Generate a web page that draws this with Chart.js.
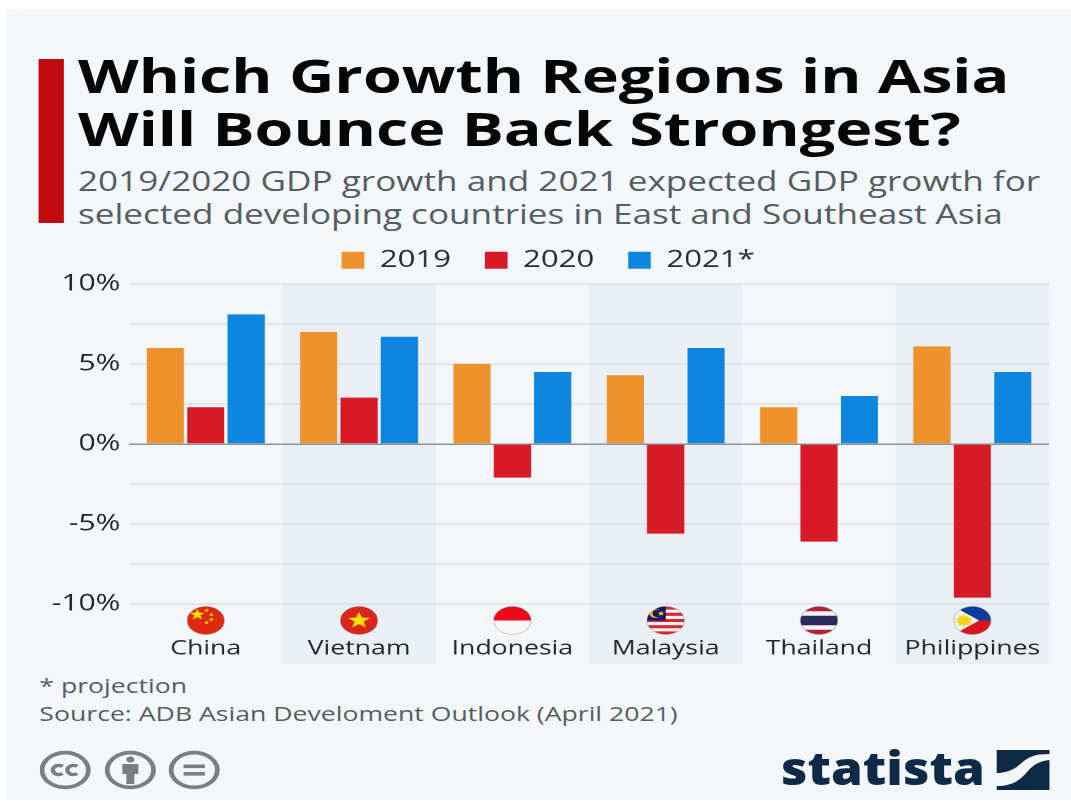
<!DOCTYPE html>
<html>
<head>
<meta charset="utf-8">
<title>Which Growth Regions in Asia Will Bounce Back Strongest?</title>
<script src="https://cdn.jsdelivr.net/npm/chart.js@4"></script>
<style>
    html, body { margin: 0; padding: 0; background: #fff; overflow: hidden; }
    #lienzo {
        position: absolute; left: 0; top: 0; width: 805px; height: 805px;
        transform-origin: 0 0; transform: scaleX(1.3304);
        font-family: "Open Sans", sans-serif;
    }
    #fondo { position: absolute; left: 5px; top: 10px; width: 800px; height: 790px; background: #f3f7fa; }
    #marca { position: absolute; left: 29px; top: 59px; width: 19px; height: 164px; background: #bf0b0e; }
    .texto { position: absolute; white-space: nowrap; }
    #titulo { left: 58.6px; top: 49px; font-size: 47.2px; line-height: 53px; font-weight: 700; color: #060606; }
    #subtitulo { left: 58.6px; top: 165px; font-size: 26.4px; line-height: 33px; color: #565d63; }
    #nota { left: 29.6px; top: 672px; font-size: 20px; line-height: 28px; color: #565d63; }
    #grafico { position: absolute; left: 0; top: 223px; }
    #cc { position: absolute; left: 30px; top: 750px; }
    #logoTexto {
        left: 587px; top: 737px; font-size: 46px; line-height: 60px; font-weight: 800; color: #0f2a47;
        transform-origin: 0 0; transform: scaleX(0.836);
    }
    #logoMarca { position: absolute; left: 749px; top: 750px; }
</style>
</head>
<body>
<div id="lienzo">
    <div id="fondo"></div>
    <div id="marca"></div>
    <div id="titulo" class="texto">Which Growth Regions in Asia<br>Will Bounce Back Strongest?</div>
    <div id="subtitulo" class="texto">2019/2020 GDP growth and 2021 expected GDP growth for<br>selected developing countries in East and Southeast Asia</div>
    <canvas id="grafico" width="805" height="441"></canvas>
    <div id="nota" class="texto">* projection<br>Source: ADB Asian Develoment Outlook (April 2021)</div>
    <svg id="cc" width="140" height="40" viewBox="0 0 140 40">
        <g fill="none" stroke="#7b7f80" stroke-width="3.6">
            <circle cx="19" cy="20" r="17.4"/>
            <circle cx="68" cy="20" r="17.4"/>
            <circle cx="116" cy="20" r="17.4"/>
        </g>
        <g fill="none" stroke="#7b7f80" stroke-width="3.4">
            <path d="M17 16.5a4.5 4.5 0 1 0 0 7"/>
            <path d="M28 16.5a4.5 4.5 0 1 0 0 7"/>
        </g>
        <g fill="#7b7f80">
            <circle cx="68" cy="9.5" r="3"/>
            <path d="M62 14h12v10h-3v10h-6V24h-3z"/>
            <rect x="108" y="14.5" width="16" height="3.6"/>
            <rect x="108" y="22" width="16" height="3.6"/>
        </g>
    </svg>
    <div id="logoTexto" class="texto">statista</div>
    <svg id="logoMarca" width="40" height="40" viewBox="0 0 40 40">
        <path fill="#0f2a47" d="M0 0H40V4C28 4 24 7 18 14C13 20 7 23 0 23Z"/>
        <path fill="#0f2a47" d="M40 10V40H0V36C12 36 18 30 23 22C28 14 33 11 40 10Z"/>
    </svg>
</div>

<script>
const paises = ['China', 'Vietnam', 'Indonesia', 'Malaysia', 'Thailand', 'Philippines'];
const anios = ['2019', '2020', '2021*'];
const valores2019 = [6.0, 7.0, 5.0, 4.3, 2.3, 6.1];
const valores2020 = [2.3, 2.9, -2.1, -5.6, -6.1, -9.6];
const valores2021 = [8.1, 6.7, 4.5, 6.0, 3.0, 4.5];
const coloresAnios = ['#f0922b', '#d81a27', '#0d86e0'];
const marcasEje = ['10%', '5%', '0%', '-5%', '-10%'];

const FUENTE = '"Open Sans", sans-serif';

function estrella(ctx, x, y, r, color, giro = 0) {
    ctx.fillStyle = color;
    ctx.beginPath();
    for (let i = 0; i < 10; i++) {
        const radio = i % 2 ? r * 0.42 : r;
        const ang = -Math.PI / 2 + giro + i * Math.PI / 5;
        ctx.lineTo(x + radio * Math.cos(ang), y + radio * Math.sin(ang));
    }
    ctx.closePath();
    ctx.fill();
}

// Cada bandera se dibuja dentro de un circulo de radio r centrado en (0,0)
const banderas = {
    China(ctx, r) {
        ctx.fillStyle = '#de2910';
        ctx.fillRect(-r, -r, 2 * r, 2 * r);
        estrella(ctx, -r * 0.45, -r * 0.42, r * 0.42, '#ffde00');
        [[0.05, -0.72], [0.3, -0.42], [0.3, -0.08], [0.05, 0.15]].forEach(p => {
            estrella(ctx, r * p[0], r * p[1], r * 0.15, '#ffde00');
        });
    },
    Vietnam(ctx, r) {
        ctx.fillStyle = '#da251d';
        ctx.fillRect(-r, -r, 2 * r, 2 * r);
        estrella(ctx, 0, 0, r * 0.62, '#ffe000');
    },
    Indonesia(ctx, r) {
        ctx.fillStyle = '#f7f7f7';
        ctx.fillRect(-r, -r, 2 * r, 2 * r);
        ctx.fillStyle = '#ec0a18';
        ctx.fillRect(-r, -r, 2 * r, r);
    },
    Malaysia(ctx, r) {
        for (let i = 0; i < 9; i++) {
            ctx.fillStyle = i % 2 ? '#f5f5f5' : '#d8262c';
            ctx.fillRect(-r, -r + i * 2 * r / 9, 2 * r, 2 * r / 9 + 0.5);
        }
        ctx.fillStyle = '#14146e';
        ctx.fillRect(-r, -r, r, r);
        ctx.fillStyle = '#ffcc00';
        ctx.beginPath();
        ctx.arc(-r * 0.55, -r * 0.5, r * 0.32, 0, Math.PI * 2);
        ctx.fill();
        ctx.fillStyle = '#14146e';
        ctx.beginPath();
        ctx.arc(-r * 0.45, -r * 0.5, r * 0.27, 0, Math.PI * 2);
        ctx.fill();
        estrella(ctx, -r * 0.25, -r * 0.5, r * 0.2, '#ffcc00');
    },
    Thailand(ctx, r) {
        ctx.fillStyle = '#b5203a';
        ctx.fillRect(-r, -r, 2 * r, 2 * r);
        ctx.fillStyle = '#f5f5f5';
        ctx.fillRect(-r, -r * 0.66, 2 * r, r * 1.32);
        ctx.fillStyle = '#2a2a5c';
        ctx.fillRect(-r, -r * 0.34, 2 * r, r * 0.68);
    },
    Philippines(ctx, r) {
        ctx.fillStyle = '#0d3b9c';
        ctx.fillRect(-r, -r, 2 * r, r);
        ctx.fillStyle = '#d8141e';
        ctx.fillRect(-r, 0, 2 * r, r);
        ctx.fillStyle = '#f7f7f7';
        ctx.beginPath();
        ctx.moveTo(-r, -r);
        ctx.lineTo(r * 0.36, 0);
        ctx.lineTo(-r, r);
        ctx.closePath();
        ctx.fill();
        estrella(ctx, -r * 0.45, 0, r * 0.52, '#fdd116');
        estrella(ctx, -r * 0.45, 0, r * 0.52, '#fdd116', Math.PI / 5);
    }
};

// Franjas alternas detras de las barras, hasta el borde inferior del canvas
const pluginFranjas = {
    id: 'franjas',
    beforeDraw(chart) {
        const ctx = chart.ctx;
        const ejeX = chart.scales.x;
        const ancho = ejeX.width / paises.length;
        ctx.save();
        ctx.fillStyle = '#eaeff6';
        paises.forEach((pais, i) => {
            if (i % 2 === 1) {
                const centro = ejeX.getPixelForTick(i);
                ctx.fillRect(centro - ancho / 2, chart.chartArea.top, ancho, chart.height - chart.chartArea.top);
            }
        });
        ctx.restore();
    }
};

const pluginBanderas = {
    id: 'banderas',
    afterDraw(chart) {
        const ctx = chart.ctx;
        const r = 14;
        const y = chart.chartArea.bottom + 16.5;
        paises.forEach((pais, i) => {
            ctx.save();
            ctx.translate(chart.scales.x.getPixelForTick(i), y);
            ctx.beginPath();
            ctx.arc(0, 0, r, 0, Math.PI * 2);
            ctx.save();
            ctx.clip();
            banderas[pais](ctx, r);
            ctx.restore();
            ctx.strokeStyle = 'rgba(120, 120, 120, 0.35)';
            ctx.lineWidth = 0.8;
            ctx.beginPath();
            ctx.arc(0, 0, r, 0, Math.PI * 2);
            ctx.stroke();
            ctx.restore();
        });
    }
};

// La leyenda necesita mucho padding horizontal pero poco alto
const pluginLeyenda = {
    id: 'leyendaBaja',
    beforeInit(chart) {
        const fitOriginal = chart.legend.fit;
        chart.legend.fit = function () {
            fitOriginal.call(this);
            this.height = 61;
        };
    }
};

window.addEventListener('load', () => {
    new Chart(document.querySelector('#grafico'), {
        type: 'bar',
        data: {
            labels: paises,
            datasets: [valores2019, valores2020, valores2021].map((datos, i) => ({
                label: anios[i],
                data: datos,
                backgroundColor: coloresAnios[i],
                categoryPercentage: 0.79,
                barPercentage: 0.92
            }))
        },
        options: {
            responsive: false,
            animation: false,
            devicePixelRatio: 2,
            layout: { padding: { left: 35.5, right: 16.5, top: 0, bottom: 0 } },
            plugins: {
                tooltip: { enabled: false },
                legend: {
                    position: 'top',
                    labels: {
                        boxWidth: 17,
                        boxHeight: 17,
                        padding: 25.5,
                        color: '#2b2f33',
                        font: { family: FUENTE, size: 23.4 }
                    }
                }
            },
            scales: {
                x: {
                    grid: { display: false },
                    border: { display: false },
                    ticks: {
                        padding: 25,
                        maxRotation: 0,
                        autoSkip: false,
                        color: '#24282c',
                        font: { family: FUENTE, size: 20 }
                    },
                    afterFit(eje) {
                        eje.height = 60;
                        eje.paddingLeft = 0;
                        eje.paddingRight = 0;
                    }
                },
                y: {
                    min: -10,
                    max: 10,
                    afterFit(eje) { eje.width = 61.5; },
                    grid: {
                        color: c => c.tick.value === 0 ? '#8d9296' : '#cfd5db',
                        lineWidth: c => c.tick.value === 0 ? 1.5 : 1,
                        drawTicks: false
                    },
                    border: { display: false },
                    ticks: {
                        stepSize: 2.5,
                        padding: 6.5,
                        autoSkip: false,
                        color: '#24282c',
                        font: { family: FUENTE, size: 22.5 },
                        callback(valor) {
                            return Number.isInteger(valor / 5) ? marcasEje[(10 - valor) / 5] : '';
                        }
                    }
                }
            }
        },
        plugins: [pluginLeyenda, pluginFranjas, pluginBanderas]
    });
});
</script>
</body>
</html>
